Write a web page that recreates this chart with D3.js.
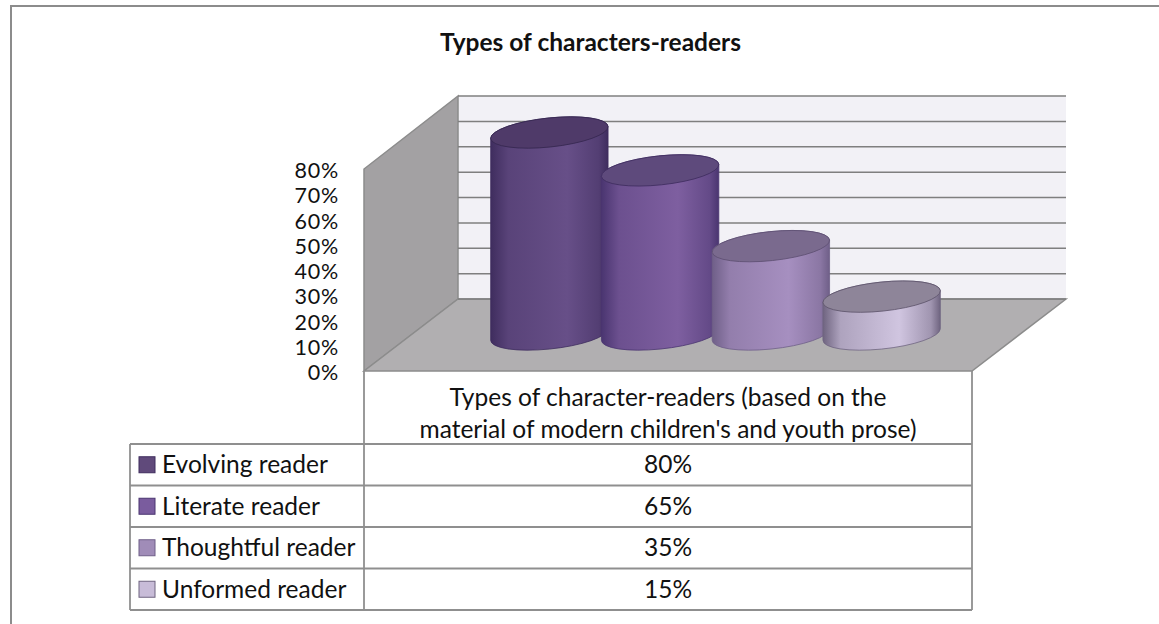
<!DOCTYPE html>
<html><head><meta charset="utf-8">
<script src="https://cdnjs.cloudflare.com/ajax/libs/d3/7.8.5/d3.min.js"></script>
<style>html,body{margin:0;padding:0;background:#fff}svg{display:block}text{font-family:Lato,sans-serif;fill:#111}</style>
</head><body><svg id="c" width="1159" height="624"></svg>
<script>
const title = "Types of characters-readers";
const categoryLines = ["Types of character-readers (based on the", "material of modern children's and youth prose)"];
const series = ["Evolving reader", "Literate reader", "Thoughtful reader", "Unformed reader"];
const values = [80, 65, 35, 15];
const ticks = [0, 10, 20, 30, 40, 50, 60, 70, 80];
const topFills = ["#4f3a69", "#5e4a7c", "#7a6a8e", "#8e8599"];
const edgeFills = ["#3f2d5e", "#4a3570", "#6f5f88", "#6f6480"];
const midFills = ["#674f88", "#7e5fa0", "#a68fc0", "#d0c5e0"];
const swatchFills = ["#604a7b", "#7a5c9e", "#a08cb8", "#c8bcd8"];

const svg = d3.select("#c");
const defs = svg.append("defs");
const G = "#8c8c8c";
svg.append("path").attr("d","M11,624V6H1159").attr("fill","none").attr("stroke",G).attr("stroke-width",2);
svg.append("text").attr("x",590.5).attr("y",51).attr("text-anchor","middle").attr("font-size",24.5).attr("font-weight",700).text(title);

const yFront = d3.scaleLinear().domain([0,80]).range([371,169]);
const yBack = d3.scaleLinear().domain([0,80]).range([299,96]);
const poly = (pts, fill) => svg.append("polygon").attr("points", pts.map(p=>p.join(",")).join(" ")).attr("fill",fill).attr("stroke",G).attr("stroke-width",1.5);
const xF0=364,xF1=972,xB0=458,xB1=1066;
poly([[xB0,yBack(0)],[xB0,yBack(80)],[xB1,yBack(80)],[xB1,yBack(0)]],"#f2f1f6").attr("stroke","none");
poly([[xF0,yFront(0)],[xF0,yFront(80)],[xB0,yBack(80)],[xB0,yBack(0)]],"#a3a1a3");
poly([[xF0,yFront(0)],[xB0,yBack(0)],[xB1,yBack(0)],[xF1,yFront(0)]],"#b1afb1");
ticks.forEach(t=>svg.append("line").attr("x1",xB0).attr("x2",xB1).attr("y1",yBack(t)).attr("y2",yBack(t)).attr("stroke","#7f7f7f").attr("stroke-width",1.5));
ticks.forEach(t=>svg.append("text").attr("x",339).attr("y",yFront(t)+9).attr("text-anchor","end").attr("font-size",21.5).attr("letter-spacing",0.8).text(t+"%"));

const x = d3.scaleBand().domain(series).range([494,937]).padding(0);
const h = d3.scaleLinear().domain([0,80]).range([334.5,132.5]);
const a=59,b=14.5,deg=-6,th=deg*Math.PI/180;
const W=Math.sqrt(a*a*Math.cos(th)**2+b*b*Math.sin(th)**2);
const off=(a*a-b*b)*Math.sin(th)*Math.cos(th)/W;
series.forEach((s,i)=>{
  const cx=x(s)+x.bandwidth()/2, y0=h(0), y1=h(values[i]);
  const id="cy"+i;
  const g=defs.append("linearGradient").attr("id",id).attr("x1",0).attr("x2",1).attr("y1",0).attr("y2",0);
  [[0,edgeFills[i]],[0.15,d3.interpolateRgb(edgeFills[i],midFills[i])(0.65)],[0.65,midFills[i]],[0.92,d3.interpolateRgb(edgeFills[i],midFills[i])(0.5)],[1,edgeFills[i]]].forEach(([o,c])=>g.append("stop").attr("offset",o).attr("stop-color",c));
  svg.append("path").attr("d",`M${cx-W},${y1-off}L${cx-W},${y0-off}A${a},${b},${deg},0,0,${cx+W},${y0+off}L${cx+W},${y1+off}A${a},${b},${deg},0,0,${cx-W},${y1-off}Z`)
    .attr("fill",`url(#${id})`).attr("stroke",edgeFills[i]).attr("stroke-width",0.8);
  svg.append("ellipse").attr("transform",`translate(${cx},${y1}) rotate(${deg})`).attr("rx",a).attr("ry",b)
    .attr("fill",topFills[i]).attr("stroke",d3.color(edgeFills[i]).darker(0.5)).attr("stroke-width",0.8);
});

const rowY = d3.scaleBand().domain(series).range([444,610]);
const tl=130,tm=364,tr=972;
const tG="#8f8f8f";
const line=(x1,y1,x2,y2)=>svg.append("line").attr("x1",x1).attr("y1",y1).attr("x2",x2).attr("y2",y2).attr("stroke",tG).attr("stroke-width",1.8);
line(tm,371,tm,610);line(tr,371,tr,610);line(tl,444,tl,610);
line(tl,444,tr,444);
series.forEach((s,i)=>{
  const yb=rowY(s)+rowY.bandwidth(), ym=rowY(s)+rowY.bandwidth()/2;
  line(tl,yb,tr,yb);
  svg.append("rect").attr("x",139).attr("y",ym-8).attr("width",16).attr("height",16).attr("fill",swatchFills[i]).attr("stroke",edgeFills[i]).attr("stroke-width",1);
  svg.append("text").attr("x",162).attr("y",ym+8.5).attr("font-size",24.5).text(s);
  svg.append("text").attr("x",(tm+tr)/2).attr("y",ym+8.5).attr("text-anchor","middle").attr("font-size",24.5).text(values[i]+"%");
});
categoryLines.forEach((l,i)=>svg.append("text").attr("x",(tm+tr)/2).attr("y",405.5+i*32).attr("text-anchor","middle").attr("font-size",24.5).text(l));
</script></body></html>
